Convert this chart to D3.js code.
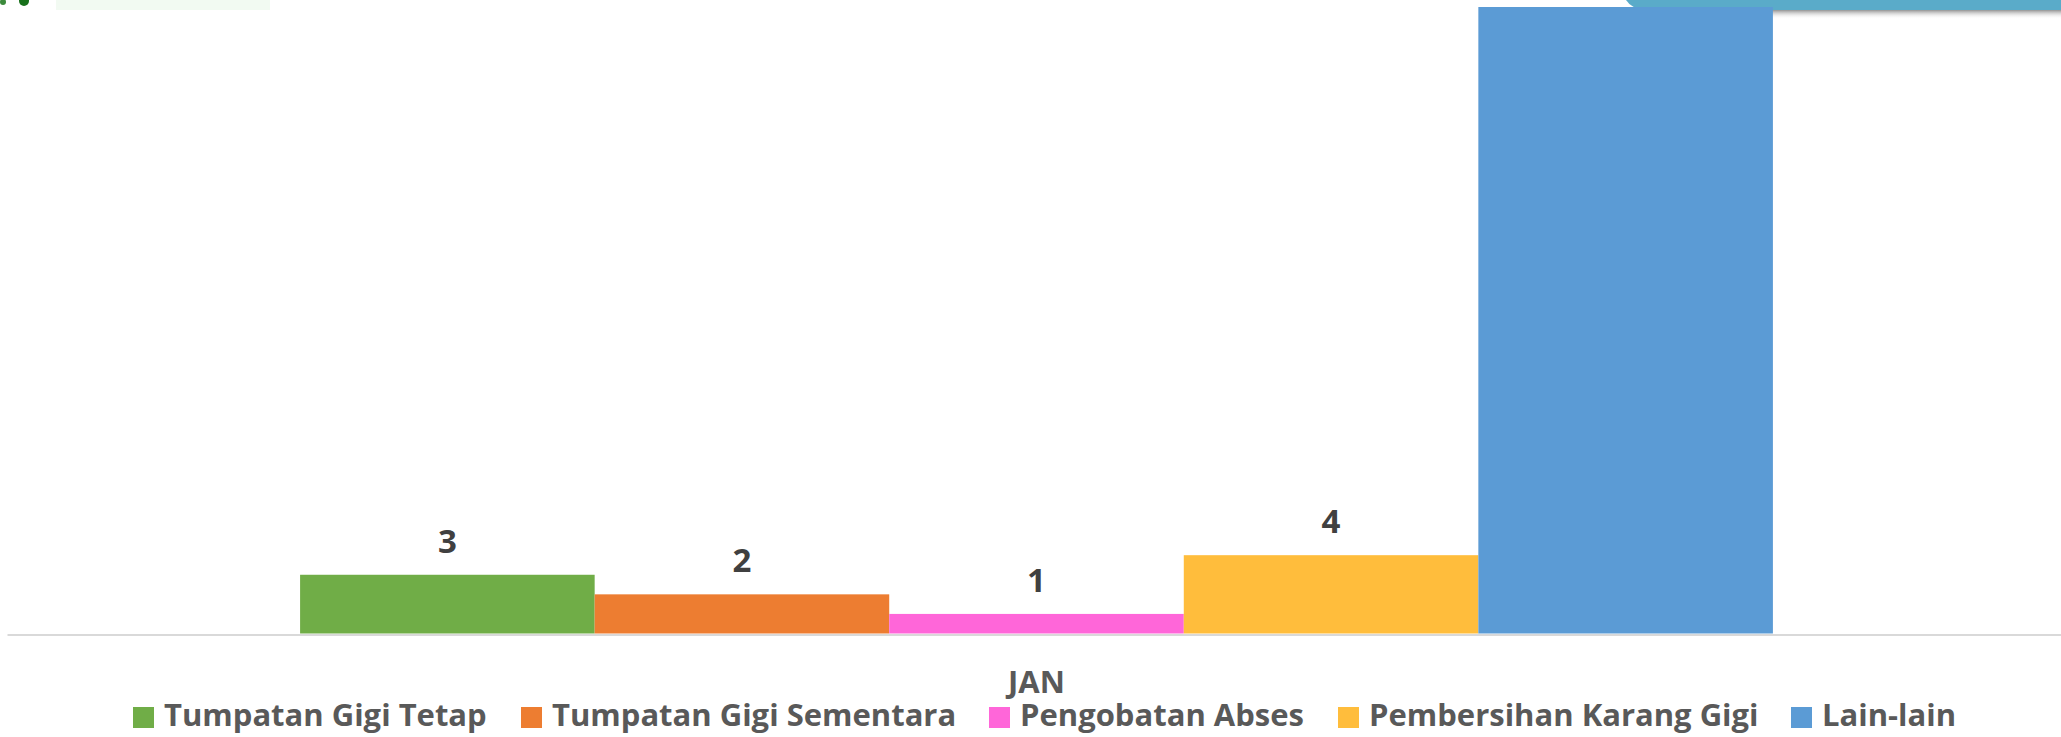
<!DOCTYPE html>
<html>
<head>
<meta charset="utf-8">
<script src="https://cdn.jsdelivr.net/npm/d3@7"></script>
<style>
  body { margin: 0; background: #fff; }
  svg { display: block; font-family: "Open Sans", sans-serif; }
</style>
</head>
<body>
<div id="container"></div>
<script>
/**
 * DATA
 * */
const categories = ['JAN'];
const series = ['Tumpatan Gigi Tetap', 'Tumpatan Gigi Sementara', 'Pengobatan Abses', 'Pembersihan Karang Gigi', 'Lain-lain'];
const values = [3, 2, 1, 4, 32];
const colors = ['#70ad47', '#ed7d31', '#ff66d9', '#ffbd3c', '#5b9bd5'];
const yMax = 32;

/**
 * CONSTANTS
 * */
const width = 2061,
  height = 737,
  baseline = 633.5,
  plotTop = 7,
  plotLeft = 7,
  plotRight = 2066;

const svg = d3.select('#container')
  .append('svg')
  .attr('width', width)
  .attr('height', height);

// decoration bits cut off at the top of the slide
const defs = svg.append('defs');
const grad = defs.append('linearGradient')
  .attr('id', 'shadow').attr('x1', 0).attr('x2', 0).attr('y1', 0).attr('y2', 1);
grad.append('stop').attr('offset', '0%').attr('stop-color', '#7a7a7a');
grad.append('stop').attr('offset', '100%').attr('stop-color', '#ffffff').attr('stop-opacity', 0);

svg.append('rect')
  .attr('x', 1636).attr('y', 9).attr('width', 425).attr('height', 10)
  .attr('fill', 'url(#shadow)');
svg.append('path')
  .attr('d', 'M1626,0 Q1632,10 1648,10 L2061,10 L2061,0 Z')
  .attr('fill', '#5aabc9');

svg.append('circle').attr('cx', 24).attr('cy', 1).attr('r', 5).attr('fill', '#17701a');
svg.append('circle').attr('cx', 3).attr('cy', 2).attr('r', 3).attr('fill', '#3b8a3b');
svg.append('rect')
  .attr('x', 56).attr('y', 0).attr('width', 214).attr('height', 10)
  .attr('fill', '#f2faf2');

// scales
const x0 = d3.scaleBand()
  .domain(categories)
  .range([plotLeft, plotRight])
  .paddingInner(0)
  .paddingOuter(0.199);

const x1 = d3.scaleBand()
  .domain(series)
  .range([0, x0.bandwidth()]);

const y = d3.scaleLinear()
  .domain([0, yMax])
  .range([baseline, plotTop]);

// bars
const group = svg.selectAll('.cat')
  .data(categories)
  .join('g')
  .attr('class', 'cat')
  .attr('transform', d => `translate(${x0(d)},0)`);

group.selectAll('rect')
  .data(series.map((s, i) => ({ s, v: values[i], c: colors[i] })))
  .join('rect')
  .attr('x', d => x1(d.s))
  .attr('y', d => y(d.v))
  .attr('width', x1.bandwidth())
  .attr('height', d => baseline - y(d.v))
  .attr('fill', d => d.c);

// data labels (the tallest one sits above the visible area, as in the slide)
group.selectAll('text.lbl')
  .data(series.map((s, i) => ({ s, v: values[i] })).filter(d => y(d.v) - 22 > 0))
  .join('text')
  .attr('class', 'lbl')
  .attr('x', d => x1(d.s) + x1.bandwidth() / 2)
  .attr('y', d => y(d.v) - 22)
  .attr('text-anchor', 'middle')
  .attr('font-size', 33)
  .attr('font-weight', 700)
  .attr('fill', '#404040')
  .text(d => d.v);

// x axis
const xAxis = svg.append('g')
  .attr('transform', `translate(0,${baseline + 1})`)
  .call(d3.axisBottom(x0).tickSize(0).tickPadding(0));
xAxis.select('.domain').attr('stroke', '#d9d9d9').attr('stroke-width', 2);
xAxis.selectAll('text')
  .attr('dy', null)
  .attr('y', 58)
  .attr('font-family', '"Open Sans", sans-serif')
  .attr('font-size', 31)
  .attr('font-weight', 700)
  .attr('fill', '#595959');

// legend
const legendX = [133, 521, 989, 1338, 1791];
const legend = svg.selectAll('.legend')
  .data(series)
  .join('g')
  .attr('class', 'legend')
  .attr('transform', (d, i) => `translate(${legendX[i]},707)`);

legend.append('rect')
  .attr('width', 21).attr('height', 21)
  .attr('fill', (d, i) => colors[i]);

legend.append('text')
  .attr('x', 31)
  .attr('y', 19)
  .attr('font-size', 31)
  .attr('font-weight', 700)
  .attr('fill', '#595959')
  .text(d => d);
</script>
</body>
</html>
